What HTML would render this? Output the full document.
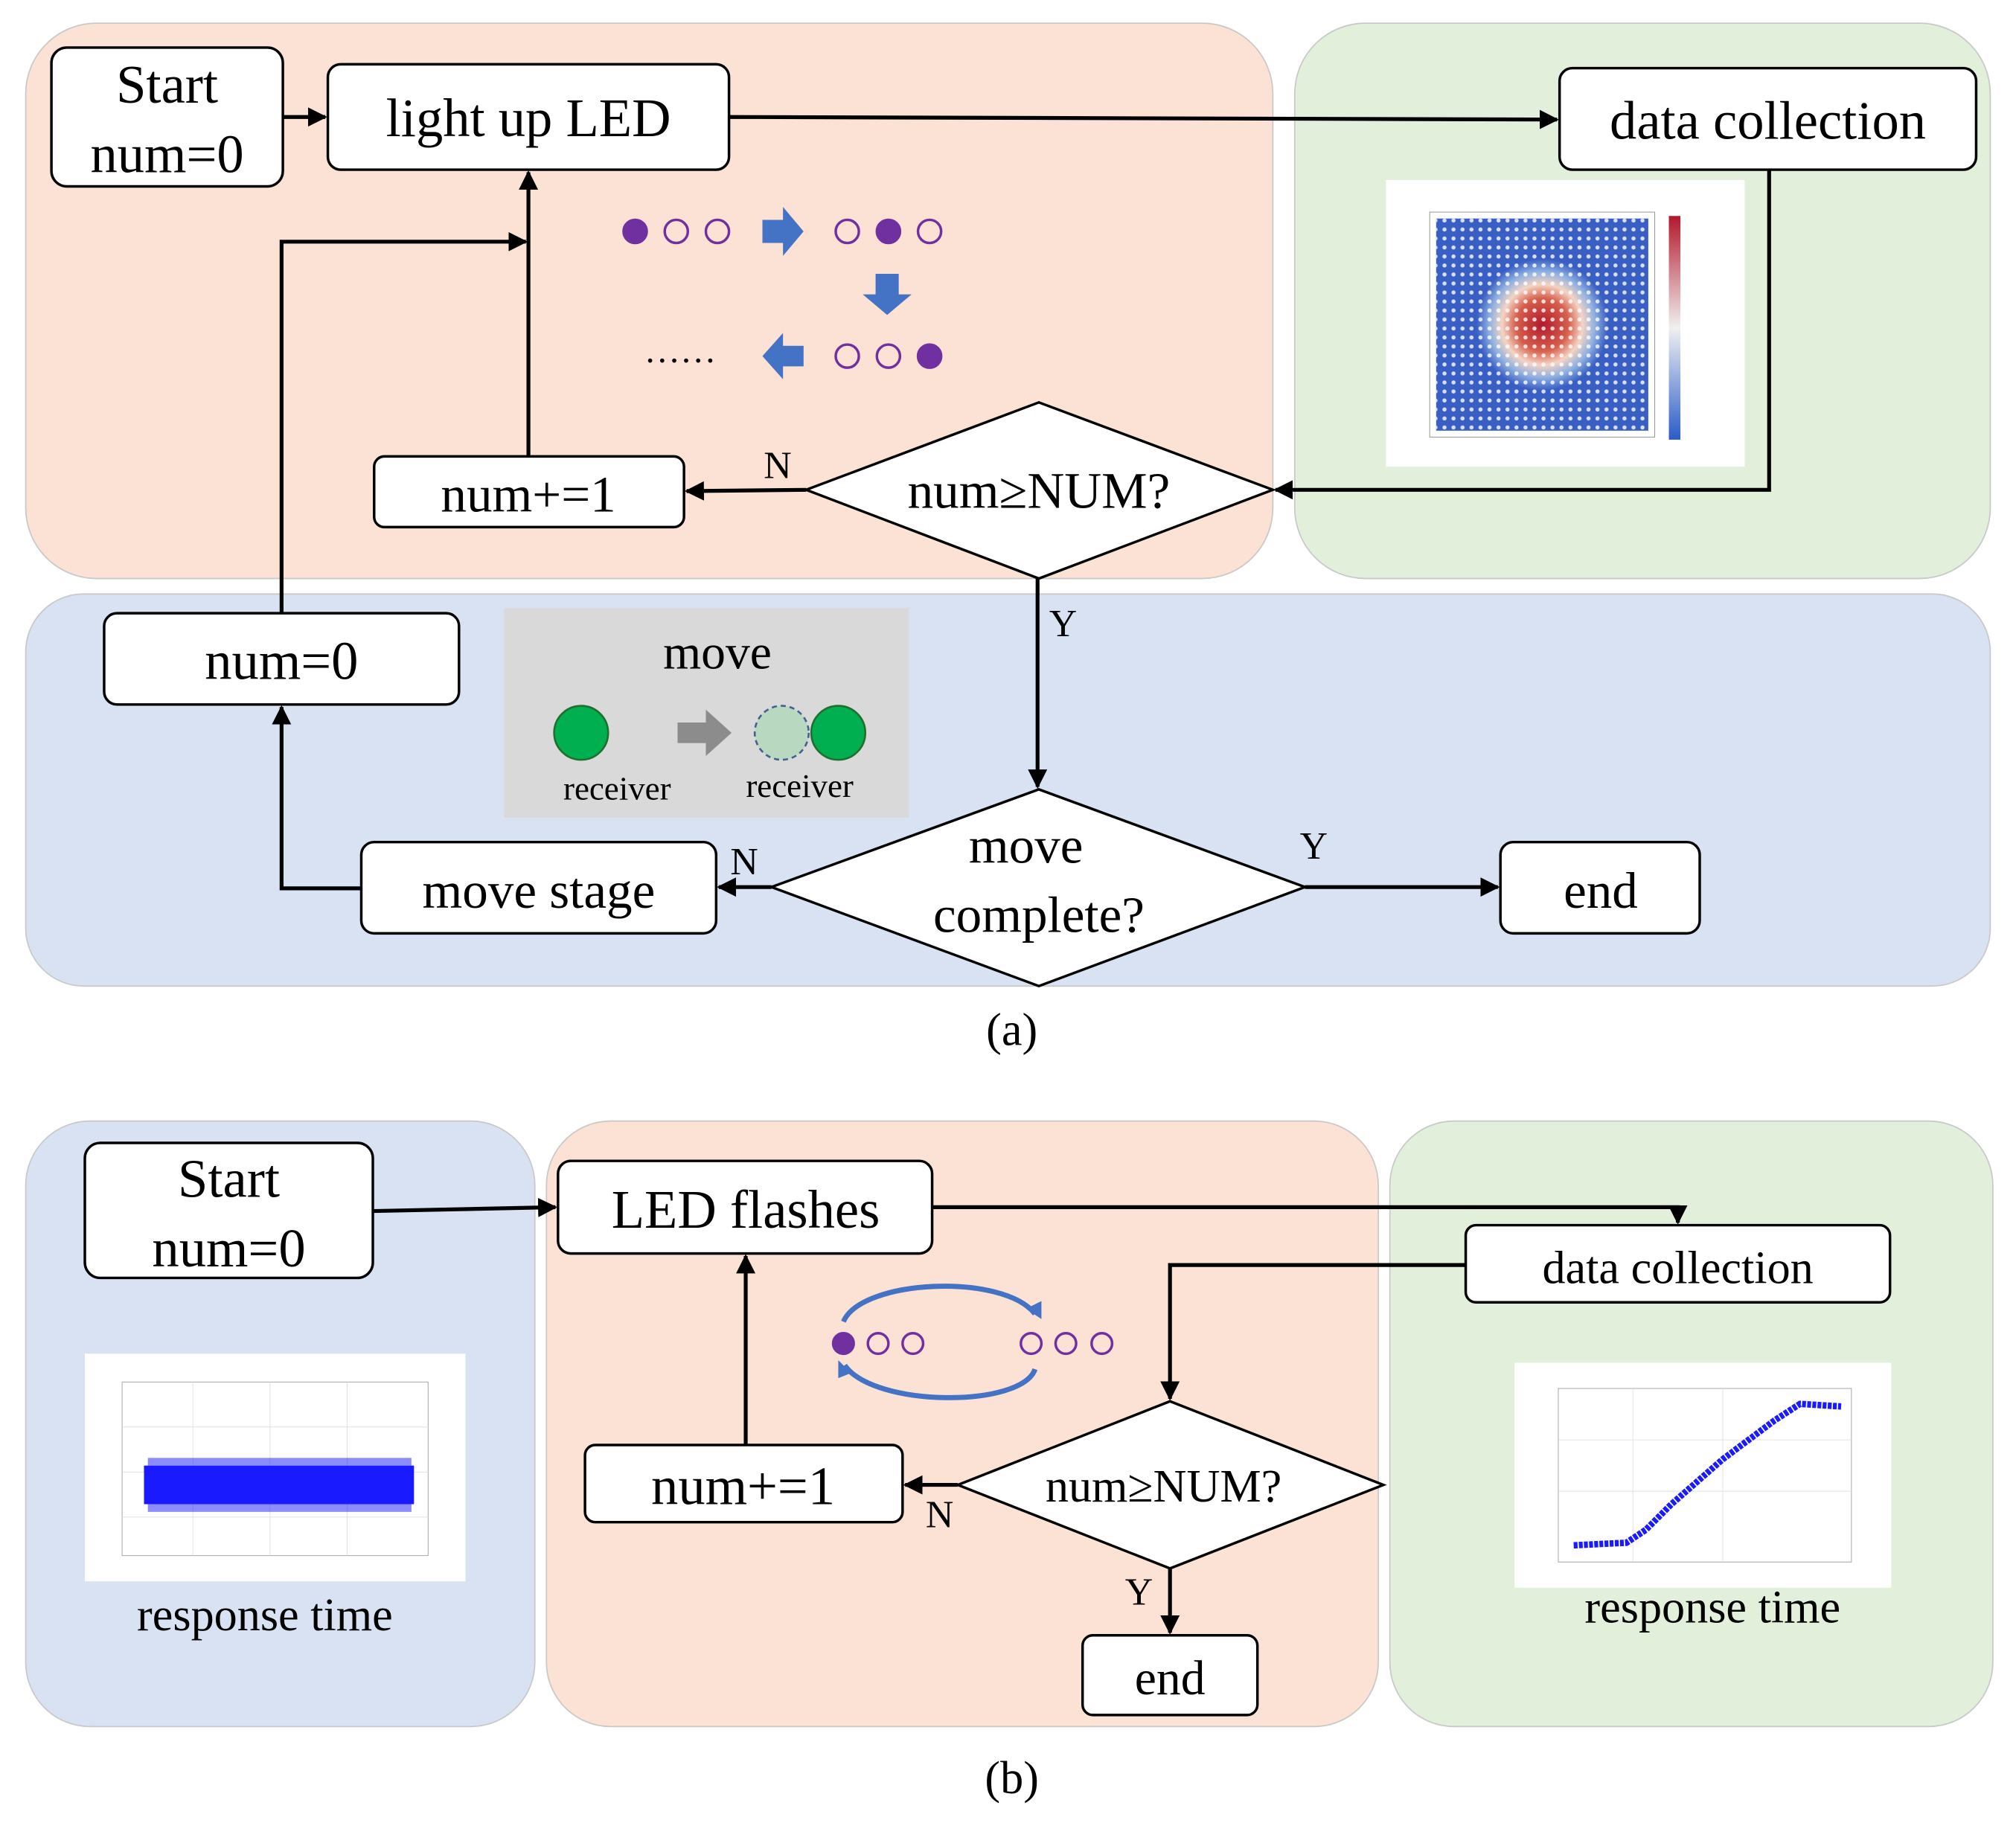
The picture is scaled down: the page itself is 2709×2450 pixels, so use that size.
<!DOCTYPE html>
<html><head><meta charset="utf-8"><style>html,body{margin:0;padding:0;background:#fff}svg{display:block}</style></head>
<body>
<svg width="2709" height="2450" viewBox="0 0 1568 1418" preserveAspectRatio="none" xmlns="http://www.w3.org/2000/svg" font-family="Liberation Serif, serif" fill="#000">
<defs>
<marker id="ar" viewBox="0 0 10 10" refX="9" refY="5" markerWidth="5" markerHeight="5" orient="auto"><path d="M0,0L10,5L0,10z" fill="#000"/></marker>
<radialGradient id="hm" cx="0.5" cy="0.5" r="0.5"><stop offset="0" stop-color="#b2182b"/><stop offset="0.25" stop-color="#d6604d"/><stop offset="0.38" stop-color="#f4d4c4"/><stop offset="0.5" stop-color="#8fb0e0"/><stop offset="0.62" stop-color="#3a5fc4"/><stop offset="1" stop-color="#3a5fc4"/></radialGradient>
<linearGradient id="cb" x1="0" y1="0" x2="0" y2="1"><stop offset="0" stop-color="#b2182b"/><stop offset="0.5" stop-color="#f0f0f0"/><stop offset="1" stop-color="#2b5cc8"/></linearGradient>
<pattern id="dots" width="7" height="7" patternUnits="userSpaceOnUse"><circle cx="3.5" cy="3.5" r="1.6" fill="#fff" opacity="0.8"/></pattern>
</defs>
<g stroke="#c8c8c8" stroke-width="1">
<rect x="20" y="18" width="970" height="432" rx="55" fill="#fbe2d4"/>
<rect x="1007" y="18" width="541" height="432" rx="55" fill="#e2efda"/>
<rect x="20" y="462" width="1528" height="305" rx="45" fill="#d9e2f3"/>
<rect x="20" y="872" width="396" height="471" rx="50" fill="#d9e2f3"/>
<rect x="425" y="872" width="647" height="471" rx="50" fill="#fbe2d4"/>
<rect x="1081" y="872" width="469" height="471" rx="50" fill="#e2efda"/>
</g>
<!-- heatmap -->
<rect x="1078" y="140" width="279" height="223" fill="#fff"/>
<rect x="1112" y="165" width="175" height="175" fill="none" stroke="#999" stroke-width="0.6"/>
<rect x="1117" y="170" width="165" height="165" fill="url(#hm)"/>
<rect x="1117" y="170" width="165" height="165" fill="url(#dots)"/>
<rect x="1298" y="168" width="9" height="174" fill="url(#cb)"/>
<!-- grey move box -->
<rect x="392" y="473" width="315" height="163" fill="#d9d9d9"/>
<text x="558" y="520" font-size="38" text-anchor="middle">move</text>
<circle cx="452" cy="570" r="21" fill="#00b050" stroke="#1f6f2f" stroke-width="1.5"/>
<path d="M527,562h22v-10l20,18-20,18v-10h-22z" fill="#8c8c8c"/>
<circle cx="608" cy="570" r="21" fill="#b8d8c0" stroke="#44618f" stroke-width="1.5" stroke-dasharray="4,3"/>
<circle cx="652" cy="570" r="21" fill="#00b050" stroke="#1f6f2f" stroke-width="1.5"/>
<text x="480" y="622" font-size="26" text-anchor="middle">receiver</text>
<text x="622" y="620" font-size="26" text-anchor="middle">receiver</text>
<!-- LED dots -->
<g stroke="#7030a0" stroke-width="2" fill="none">
<circle cx="494" cy="180" r="9" fill="#7030a0"/><circle cx="526" cy="180" r="9"/><circle cx="558" cy="180" r="9"/>
<circle cx="659" cy="180" r="9"/><circle cx="691" cy="180" r="9" fill="#7030a0"/><circle cx="723" cy="180" r="9"/>
<circle cx="659" cy="277" r="9"/><circle cx="691" cy="277" r="9"/><circle cx="723" cy="277" r="9" fill="#7030a0"/>
</g>
<path d="M593,171h16v-10l16,19-16,19v-10h-16z" fill="#4472c4"/>
<path d="M681,213h18v16h10l-19,16-19-16h10z" fill="#4472c4"/>
<path d="M625,269h-16v-10l-16,18 16,18v-10h16z" fill="#4472c4"/>
<text x="529" y="282" font-size="28" text-anchor="middle">……</text>
<!-- top connectors -->
<g stroke="#000" stroke-width="3" fill="none">
<line x1="220" y1="91" x2="253" y2="91" marker-end="url(#ar)"/>
<line x1="567" y1="91" x2="1211" y2="93" marker-end="url(#ar)"/>
<polyline points="1376,132 1376,381 992,381" marker-end="url(#ar)"/>
<line x1="627" y1="381" x2="534" y2="382" marker-end="url(#ar)"/>
<line x1="411" y1="355" x2="411" y2="134" marker-end="url(#ar)"/>
<polyline points="219,477 219,188 409,188" marker-end="url(#ar)"/>
<line x1="807" y1="450" x2="807" y2="612" marker-end="url(#ar)"/>
<polyline points="281,691 219,691 219,550" marker-end="url(#ar)"/>
<line x1="600" y1="690" x2="559" y2="690" marker-end="url(#ar)"/>
<line x1="1015" y1="690" x2="1165" y2="690" marker-end="url(#ar)"/>
</g>
<!-- top shapes -->
<g stroke="#000" stroke-width="2" fill="#fff">
<rect x="40" y="37" width="180" height="108" rx="12"/>
<rect x="255" y="50" width="312" height="82" rx="10"/>
<rect x="1213" y="53" width="324" height="79" rx="10"/>
<polygon points="808,313 990,381 808,450 627,381"/>
<rect x="291" y="355" width="241" height="55" rx="8"/>
<rect x="81" y="477" width="276" height="71" rx="10"/>
<polygon points="808,614 1015,690 808,767 600,690"/>
<rect x="281" y="655" width="276" height="71" rx="10"/>
<rect x="1167" y="655" width="155" height="71" rx="10"/>
</g>
<g font-size="42" text-anchor="middle">
<text x="130" y="80">Start</text>
<text x="130" y="134">num=0</text>
<text x="411" y="106">light up LED</text>
<text x="1375" y="108">data collection</text>
<text x="808" y="395" font-size="40">num≥NUM?</text>
<text x="411" y="398" font-size="40">num+=1</text>
<text x="219" y="528">num=0</text>
<text x="798" y="671" font-size="40">move</text>
<text x="808" y="725" font-size="40">complete?</text>
<text x="419" y="706" font-size="40">move stage</text>
<text x="1245" y="706" font-size="40">end</text>
</g>
<g font-size="30">
<text x="594" y="372">N</text>
<text x="816" y="495">Y</text>
<text x="568" y="680">N</text>
<text x="1011" y="668">Y</text>
</g>
<text x="787" y="813" font-size="36" text-anchor="middle">(a)</text>
<!-- bottom images -->
<rect x="66" y="1053" width="296" height="177" fill="#fff"/>
<rect x="95" y="1075" width="238" height="135" fill="none" stroke="#aaa" stroke-width="0.6"/>
<g stroke="#ddd" stroke-width="0.5"><line x1="95" y1="1110" x2="333" y2="1110"/><line x1="95" y1="1145" x2="333" y2="1145"/><line x1="95" y1="1180" x2="333" y2="1180"/><line x1="150" y1="1075" x2="150" y2="1210"/><line x1="210" y1="1075" x2="210" y2="1210"/><line x1="270" y1="1075" x2="270" y2="1210"/></g>
<rect x="112" y="1140" width="210" height="30" fill="#1a1aff"/>
<rect x="115" y="1134" width="205" height="6" fill="#1a1aff" opacity="0.5"/>
<rect x="115" y="1170" width="205" height="6" fill="#1a1aff" opacity="0.5"/>
<rect x="1178" y="1060" width="293" height="175" fill="#fff"/>
<rect x="1212" y="1080" width="228" height="135" fill="none" stroke="#aaa" stroke-width="0.6"/>
<g stroke="#ddd" stroke-width="0.5"><line x1="1212" y1="1120" x2="1440" y2="1120"/><line x1="1212" y1="1160" x2="1440" y2="1160"/><line x1="1270" y1="1080" x2="1270" y2="1215"/><line x1="1340" y1="1080" x2="1340" y2="1215"/></g>
<polyline points="1224,1202 1265,1200 1280,1190 1300,1170 1340,1135 1380,1105 1400,1092 1432,1094" fill="none" stroke="#1a1aff" stroke-width="5" stroke-dasharray="3,1"/>
<g font-size="36" text-anchor="middle">
<text x="206" y="1268">response time</text>
<text x="1332" y="1262">response time</text>
</g>
<!-- flashing icon -->
<g stroke="#7030a0" stroke-width="2" fill="none">
<circle cx="656" cy="1045" r="8" fill="#7030a0"/><circle cx="683" cy="1045" r="8"/><circle cx="710" cy="1045" r="8"/>
<circle cx="802" cy="1045" r="8"/><circle cx="829" cy="1045" r="8"/><circle cx="857" cy="1045" r="8"/>
</g>
<g stroke="#4472c4" stroke-width="4" fill="none">
<path d="M656,1028 C670,995 780,990 805,1022"/>
<path d="M805,1065 C795,1095 680,1095 657,1062"/>
</g>
<path d="M798,1018l12,8 0,-14z" fill="#4472c4"/>
<path d="M662,1068l-10,-10 0,14z" fill="#4472c4"/>
<!-- bottom connectors -->
<g stroke="#000" stroke-width="3" fill="none">
<line x1="290" y1="942" x2="432" y2="939" marker-end="url(#ar)"/>
<polyline points="725,939 1305,939 1305,951" marker-end="url(#ar)"/>
<polyline points="1140,984 910,984 910,1088" marker-end="url(#ar)"/>
<line x1="745" y1="1155" x2="704" y2="1155" marker-end="url(#ar)"/>
<line x1="580" y1="1124" x2="580" y2="977" marker-end="url(#ar)"/>
<line x1="910" y1="1220" x2="910" y2="1270" marker-end="url(#ar)"/>
</g>
<g stroke="#000" stroke-width="2" fill="#fff">
<rect x="66" y="889" width="224" height="105" rx="12"/>
<rect x="434" y="903" width="291" height="72" rx="10"/>
<rect x="1140" y="953" width="330" height="60" rx="8"/>
<rect x="455" y="1124" width="247" height="60" rx="8"/>
<polygon points="910,1090 1076,1155 910,1220 745,1155"/>
<rect x="842" y="1272" width="136" height="62" rx="8"/>
</g>
<g font-size="42" text-anchor="middle">
<text x="178" y="931">Start</text>
<text x="178" y="985">num=0</text>
<text x="580" y="955">LED flashes</text>
<text x="1305" y="998" font-size="36">data collection</text>
<text x="578" y="1170">num+=1</text>
<text x="905" y="1168" font-size="36">num≥NUM?</text>
<text x="910" y="1318" font-size="38">end</text>
</g>
<g font-size="30">
<text x="720" y="1188">N</text>
<text x="875" y="1248">Y</text>
</g>
<text x="787" y="1395" font-size="36" text-anchor="middle">(b)</text>
</svg>
</body></html>
